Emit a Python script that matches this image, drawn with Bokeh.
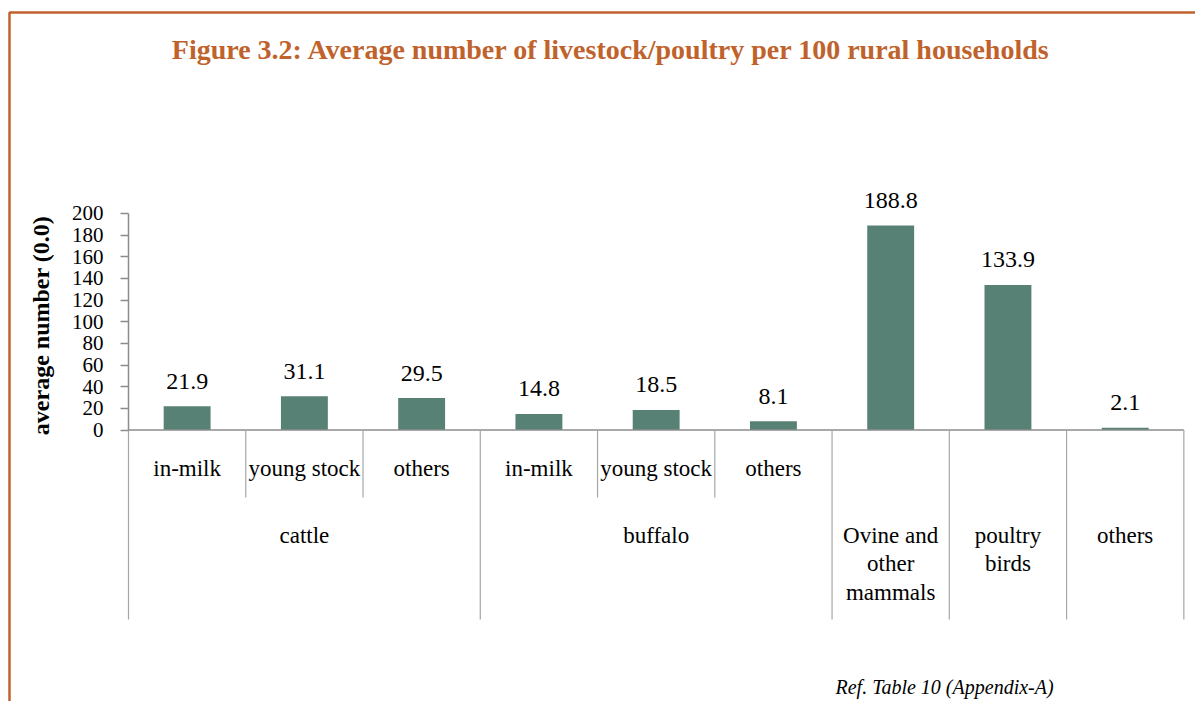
import numpy as np
from bokeh.plotting import figure
from bokeh.models import Range1d, LinearAxis, FixedTicker
from bokeh.core.properties import value
from bokeh.embed import file_html
from bokeh.resources import INLINE

# ---------------- data ----------------
title_text = "Figure 3.2: Average number of livestock/poultry per 100 rural households"
y_title = "average number (0.0)"
source_note = "Ref. Table 10 (Appendix-A)"

sub_labels = ["in-milk", "young stock", "others",
              "in-milk", "young stock", "others",
              "", "", ""]
group_labels = ["cattle", "buffalo", "Ovine and\nother\nmammals", "poultry\nbirds", "others"]
group_sizes = [3, 3, 1, 1, 1]
values = [21.9, 31.1, 29.5, 14.8, 18.5, 8.1, 188.8, 133.9, 2.1]
value_labels = ["21.9", "31.1", "29.5", "14.8", "18.5", "8.1", "188.8", "133.9", "2.1"]
y_ticks = [0, 20, 40, 60, 80, 100, 120, 140, 160, 180, 200]

# ---------------- layout helpers (picture pixel -> data) ----------------
W, H = 1195, 701
X0 = 128.0      # x of first category boundary
CW = 117.26     # px per category
Y0 = 429.5      # y of value 0
K = 1.083       # px per unit value


def dx(px):
    return (px - X0) / CW


def dy(py):
    return (Y0 - py) / K


FONT = value("Liberation Serif")
ORANGE = "#c0622b"
BAR = "#588176"
AXIS = "#8c8c8c"
SEP = "#a6a6a6"

p = figure(width=W, height=H, output_backend="svg", toolbar_location=None,
           x_axis_type=None, y_axis_type=None,
           x_range=Range1d(dx(0), dx(W)),
           y_range=Range1d(dy(H), dy(0)),
           min_border=0, min_border_left=0, min_border_right=0,
           min_border_top=0, min_border_bottom=0)
p.outline_line_color = None
p.xgrid.visible = False
p.ygrid.visible = False
p.background_fill_color = "white"
p.border_fill_color = "white"

n = len(values)
centers = np.arange(n) + 0.5

# border (left + top, running off the page)
p.line(x=[dx(9), dx(9), dx(1215)], y=[dy(730), dy(12), dy(12)],
       line_color=ORANGE, line_width=2.5)

# title
p.text(x=[dx(611)], y=[dy(49)], text=[title_text], text_font=FONT,
       text_font_style="bold", text_font_size="28px", text_color=ORANGE,
       text_align="center", text_baseline="middle")

# bars
p.vbar(x=centers, top=values, bottom=0, width=0.4, fill_color=BAR, line_color=None)

# value labels
p.text(x=centers, y=values, text=value_labels, text_font=FONT, text_font_size="24px",
       text_color="black", text_align="center", text_baseline="middle", y_offset=-25)

# x axis line
p.segment(x0=[0], y0=[0], x1=[n], y1=[0], line_color=AXIS, line_width=1.5)

# separators
bounds = np.concatenate([[0], np.cumsum(group_sizes)])
outer = set(bounds.tolist())
inner = [b for b in range(n + 1) if b not in outer]
ob = sorted(outer)
p.segment(x0=ob, y0=[0] * len(ob), x1=ob, y1=[dy(619)] * len(ob),
          line_color=SEP, line_width=1.2)
p.segment(x0=inner, y0=[0] * len(inner), x1=inner, y1=[dy(497)] * len(inner),
          line_color=SEP, line_width=1.2)

# level-1 labels
p.text(x=centers, y=[dy(468)] * n, text=sub_labels, text_font=FONT, text_font_size="23px",
       text_color="black", text_align="center", text_baseline="middle")

# level-2 labels
gcenters = (bounds[:-1] + bounds[1:]) / 2.0
p.text(x=gcenters, y=[dy(522)] * len(gcenters), text=group_labels, text_font=FONT,
       text_font_size="23px", text_color="black", text_align="center",
       text_baseline="top", text_line_height=1.15)

# y axis title
p.text(x=[dx(40)], y=[dy(325)], text=[y_title], text_font=FONT, text_font_style="bold",
       text_font_size="24px", text_color="black", text_align="center",
       text_baseline="middle", angle=np.pi / 2)

# source note (at the bottom edge)
p.text(x=[dx(835)], y=[dy(697)], text=[source_note], text_font=FONT,
       text_font_style="italic", text_font_size="20px", text_color="black",
       text_align="left", text_baseline="bottom")

# y axis
yaxis = LinearAxis(fixed_location=0, bounds=(0, 200),
                   ticker=FixedTicker(ticks=y_ticks))
yaxis.axis_line_color = AXIS
yaxis.axis_line_width = 1.5
yaxis.major_tick_line_color = AXIS
yaxis.major_tick_line_width = 1.5
yaxis.major_tick_out = 8
yaxis.major_tick_in = 0
yaxis.minor_tick_line_color = None
yaxis.major_label_text_font = "Liberation Serif"
yaxis.major_label_text_font_size = "21px"
yaxis.major_label_text_color = "black"
yaxis.major_label_standoff = 17
p.add_layout(yaxis, "left")

open("out.html", "w").write(file_html(p, INLINE))
